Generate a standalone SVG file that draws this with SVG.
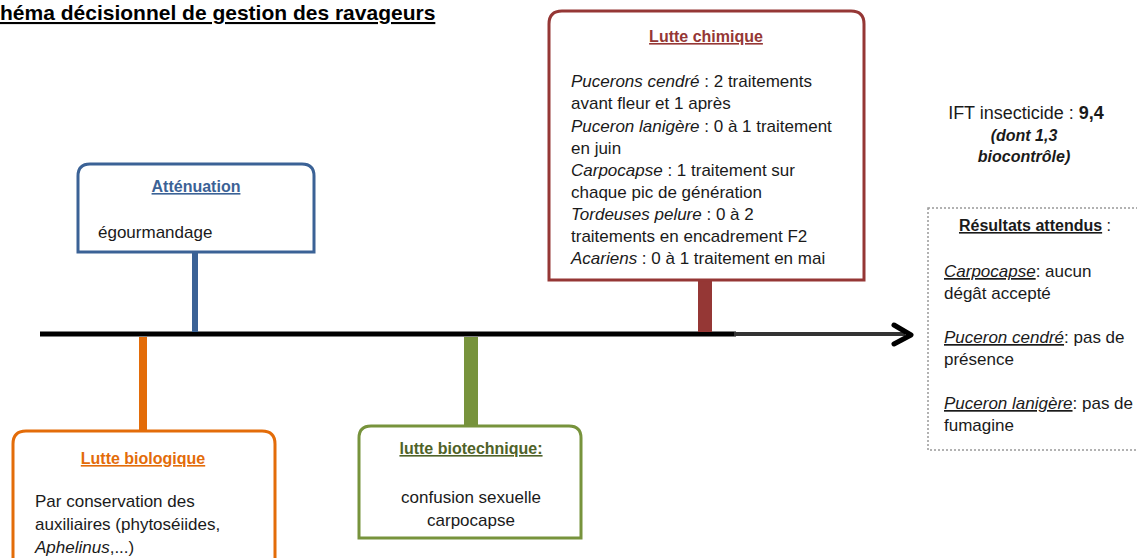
<svg xmlns="http://www.w3.org/2000/svg" width="1137" height="558" viewBox="0 0 1137 558">
<style>
text{font-family:"Liberation Sans",Arial,sans-serif;font-size:17px;fill:#1a1a1a}
.t{font-weight:bold;font-size:16px;text-decoration:underline}
.i{font-style:italic}
.box{fill:#fff;stroke-width:3}
</style>
<rect width="1137" height="558" fill="#fff"/>
<text x="0" y="20" style="font-weight:bold;font-size:21px;text-decoration:underline;fill:#000">héma décisionnel de gestion des ravageurs</text>

<g id="connectors">
  <line x1="40" y1="334" x2="736" y2="334" stroke="#000" stroke-width="5"/>
  <line x1="734" y1="334" x2="905" y2="334" stroke="#333" stroke-width="4"/>
  <polyline points="894,325 911,335 894,344" fill="none" stroke="#000" stroke-width="5" stroke-linecap="round" stroke-linejoin="round"/>
  <line x1="195" y1="252" x2="195" y2="332" stroke="#3b6296" stroke-width="6"/>
  <line x1="705" y1="280" x2="705" y2="332" stroke="#953735" stroke-width="14"/>
  <line x1="143" y1="337" x2="143" y2="431" stroke="#e36c09" stroke-width="8"/>
  <line x1="471" y1="337" x2="471" y2="426" stroke="#77933c" stroke-width="14"/>
</g>

<g id="attenuation">
  <path class="box" stroke="#3b6296" d="M78,252 V176 Q78,164 90,164 H302 Q314,164 314,176 V252 Z"/>
  <text class="t" x="196" y="192" text-anchor="middle" style="fill:#3b6296">Atténuation</text>
  <text x="98" y="238">égourmandage</text>
</g>

<g id="chimique">
  <path class="box" stroke="#953735" d="M549,280 V24 Q549,11 562,11 H851 Q864,11 864,24 V280 Z"/>
  <text class="t" x="706" y="42" text-anchor="middle" style="fill:#953735">Lutte chimique</text>
  <text x="571" y="87"><tspan class="i">Pucerons cendré</tspan> : 2 traitements</text>
  <text x="571" y="109">avant fleur et 1 après</text>
  <text x="571" y="132"><tspan class="i">Puceron  lanigère</tspan> : 0 à 1 traitement</text>
  <text x="571" y="154">en juin</text>
  <text x="571" y="176"><tspan class="i">Carpocapse</tspan> : 1 traitement sur</text>
  <text x="571" y="198">chaque pic de génération</text>
  <text x="571" y="220"><tspan class="i">Tordeuses pelure</tspan> : 0 à 2</text>
  <text x="571" y="242">traitements en encadrement F2</text>
  <text x="571" y="264"><tspan class="i">Acariens</tspan> : 0 à 1 traitement en mai</text>
</g>

<g id="biologique">
  <path class="box" stroke="#e36c09" d="M13,560 V444 Q13,431 26,431 H262 Q275,431 275,444 V560"/>
  <text class="t" x="143" y="464" text-anchor="middle" style="fill:#e36c09">Lutte biologique</text>
  <text x="35" y="507">Par conservation des</text>
  <text x="35" y="530">auxiliaires (phytoséiides,</text>
  <text x="35" y="553"><tspan class="i">Aphelinus</tspan>,...)</text>
</g>

<g id="biotechnique">
  <path class="box" stroke="#77933c" d="M359,538 V438 Q359,426 371,426 H569 Q581,426 581,438 V538 Z"/>
  <text class="t" x="471" y="454" text-anchor="middle" style="fill:#4f6228">lutte biotechnique:</text>
  <text x="471" y="503" text-anchor="middle">confusion sexuelle</text>
  <text x="471" y="526" text-anchor="middle">carpocapse</text>
</g>

<g id="ift">
  <text x="1026" y="119" text-anchor="middle" style="font-size:18px">IFT insecticide : <tspan style="font-weight:bold">9,4</tspan></text>
  <text x="1024" y="141" text-anchor="middle" style="font-size:16px;font-style:italic;font-weight:bold">(dont 1,3</text>
  <text x="1024" y="162" text-anchor="middle" style="font-size:16px;font-style:italic;font-weight:bold">biocontrôle)</text>
</g>

<g id="resultats">
  <rect x="928" y="208" width="215" height="242" fill="#fff" stroke="#999" stroke-width="1.5" stroke-dasharray="2,2"/>
  <text x="1035" y="231" text-anchor="middle" style="font-size:16px"><tspan style="font-weight:bold;text-decoration:underline">Résultats attendus</tspan> :</text>
  <text x="944" y="277"><tspan class="i" style="text-decoration:underline">Carpocapse</tspan>: aucun</text>
  <text x="944" y="299">dégât accepté</text>
  <text x="944" y="343"><tspan class="i" style="text-decoration:underline">Puceron cendré</tspan>: pas de</text>
  <text x="944" y="365">présence</text>
  <text x="944" y="409"><tspan class="i" style="text-decoration:underline">Puceron lanigère</tspan>: pas de</text>
  <text x="944" y="431">fumagine</text>
</g>
</svg>
